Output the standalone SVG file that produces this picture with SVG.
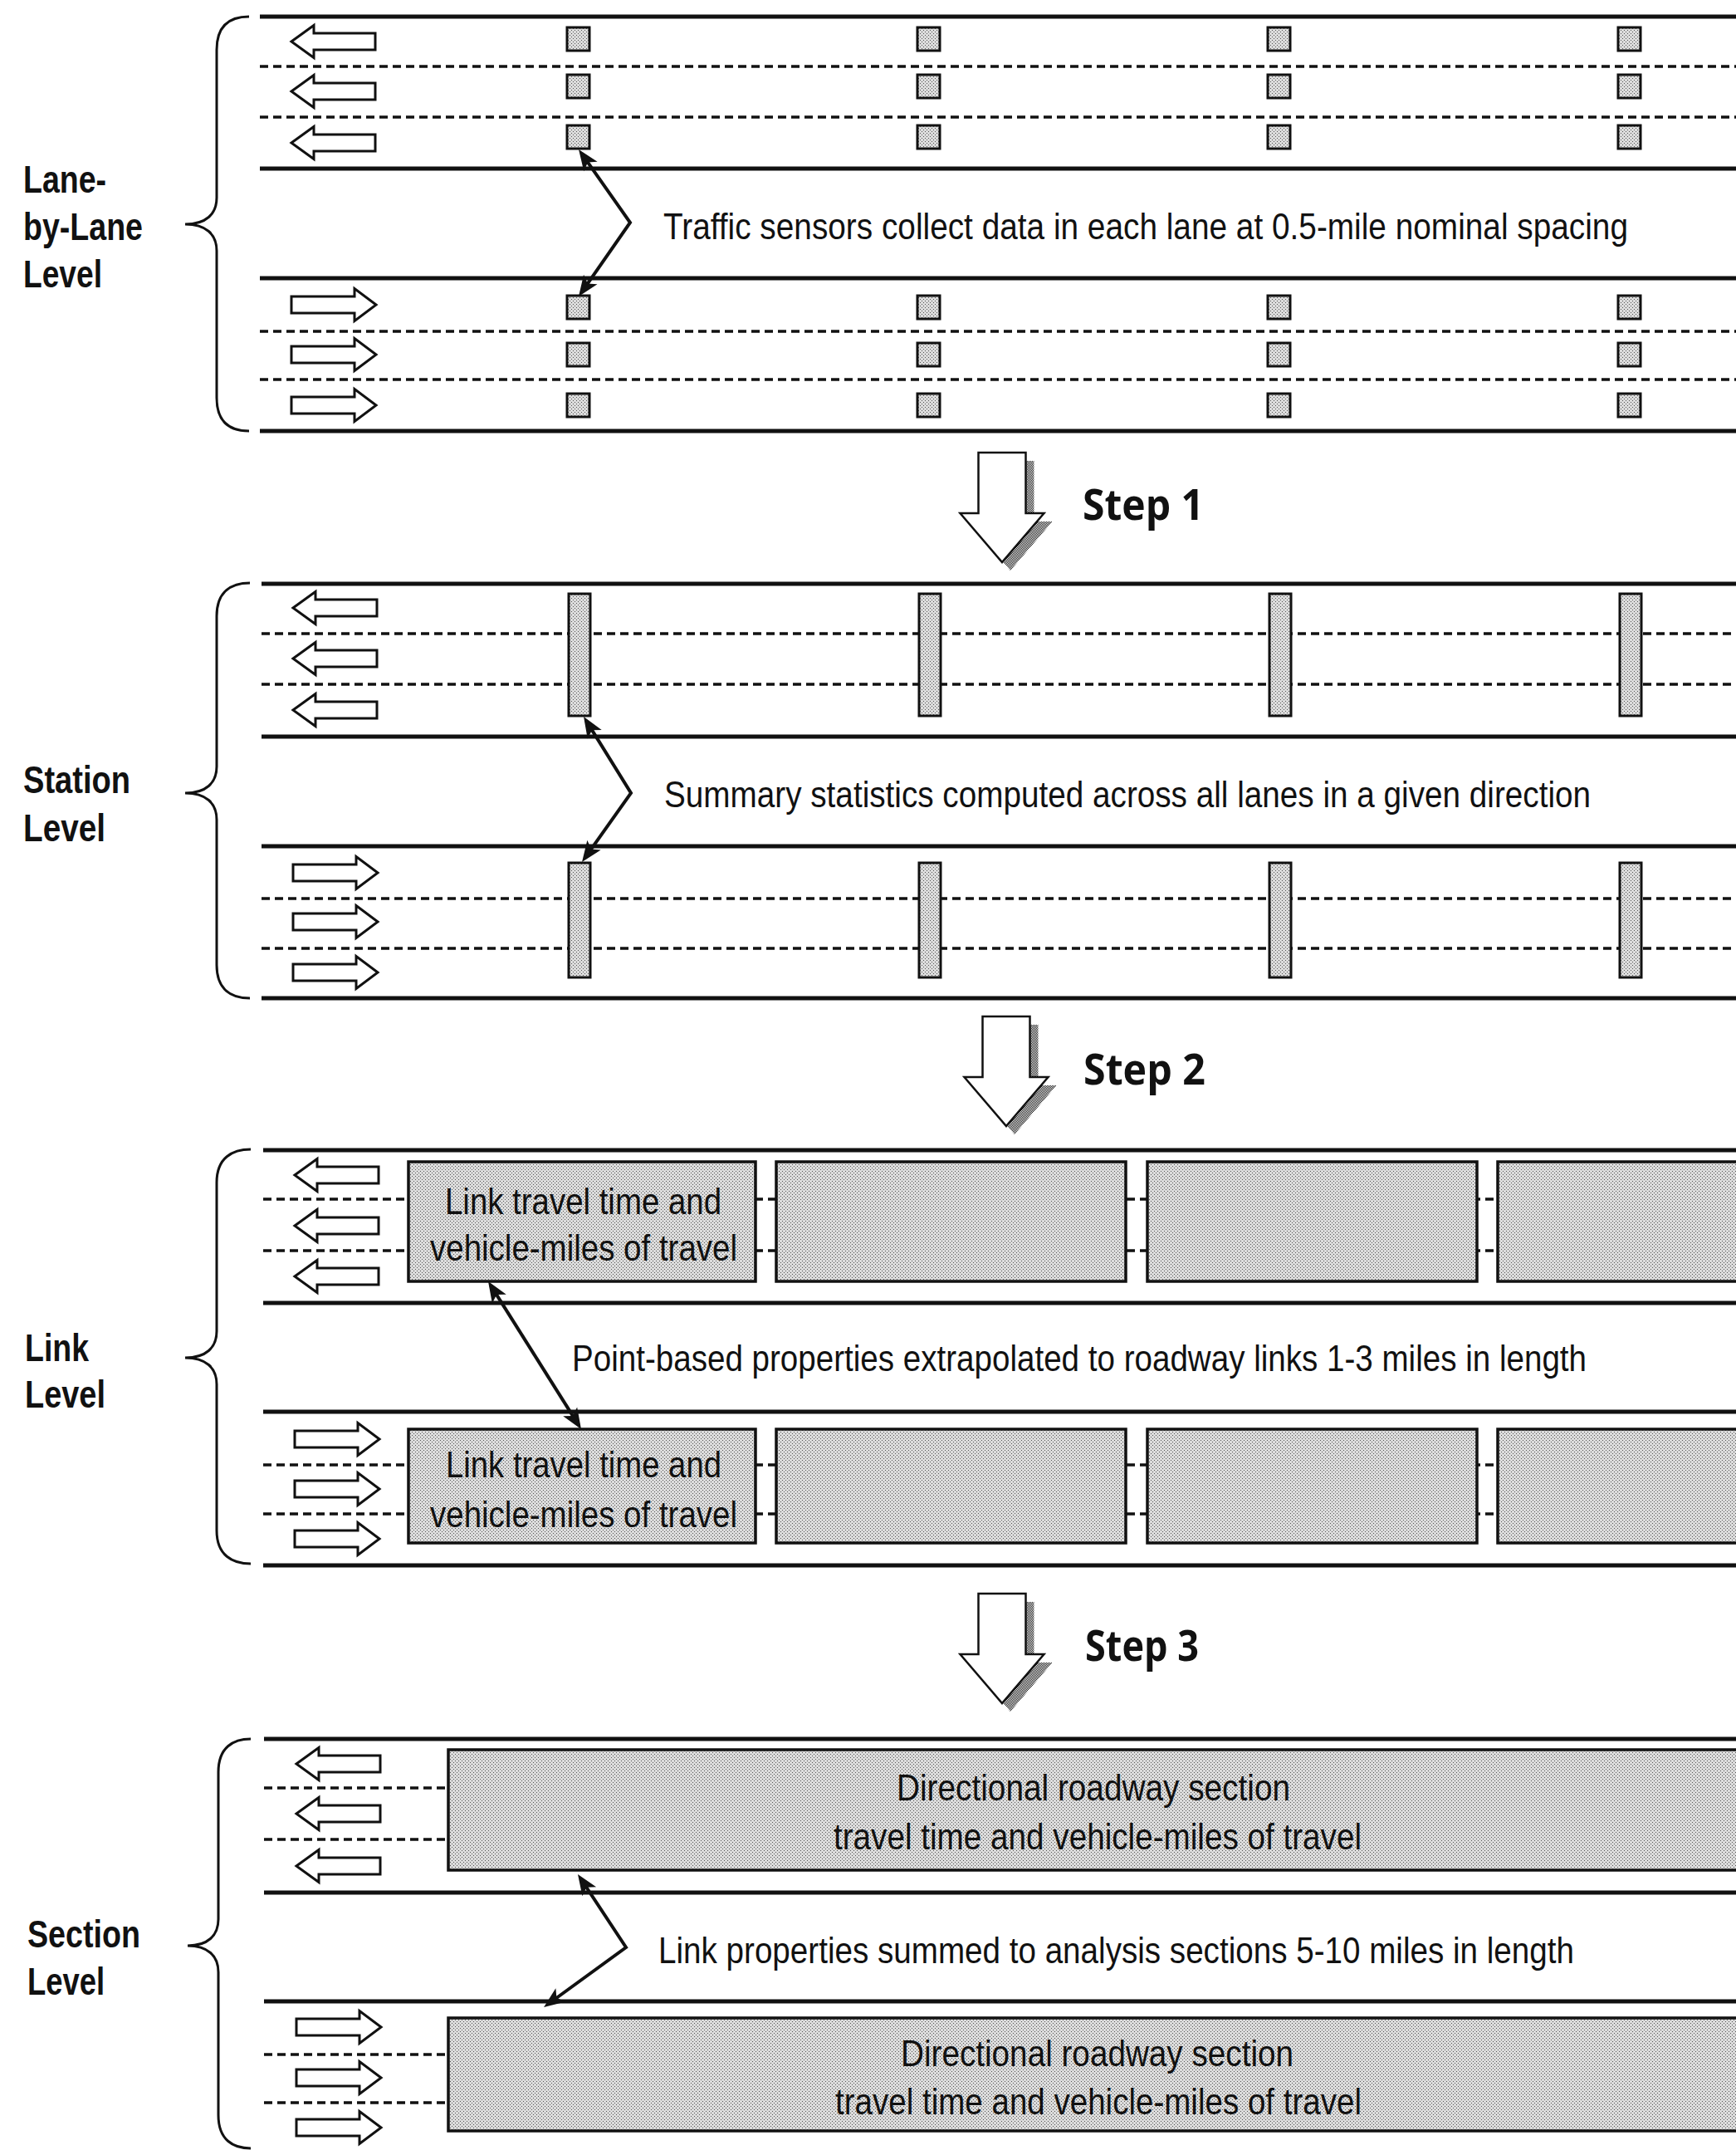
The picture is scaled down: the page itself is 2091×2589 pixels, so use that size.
<svg xmlns="http://www.w3.org/2000/svg" width="2091" height="2589" viewBox="0 0 2091 2589">
<defs>
<style>
.solid{stroke:#111;stroke-width:5;fill:none}
.dash{stroke:#111;stroke-width:3.5;stroke-dasharray:10 6;fill:none}
.lane{fill:#fff;stroke:#111;stroke-width:3}
.stip{fill:url(#stip);stroke:#111;stroke-width:3}
.box{fill:url(#stip);stroke:#111;stroke-width:3.5}
.brace{fill:none;stroke:#111;stroke-width:3}
.lbl{font-family:"Liberation Sans Narrow","Liberation Sans",Arial,sans-serif;font-weight:bold;font-size:46px;fill:#111}
.body{font-family:"Liberation Sans Narrow","Liberation Sans",Arial,sans-serif;font-size:45px;fill:#111}
.step{font-family:"Open Sans","Liberation Sans",sans-serif;font-weight:bold;font-size:52px;fill:#111}
.conn{fill:none;stroke:#111;stroke-width:4;marker-start:url(#ah);marker-end:url(#ah)}
.blk{fill:#fff;stroke:#111;stroke-width:2.5}
.shd{fill:url(#shade);stroke:none}
</style>
<pattern id="stip" width="4" height="4" patternUnits="userSpaceOnUse">
<rect width="4" height="4" fill="#dcdcdc"/>
<rect width="1" height="1" fill="#555"/>
<rect x="2" y="2" width="1" height="1" fill="#555"/>
</pattern>
<pattern id="shade" width="2" height="2" patternUnits="userSpaceOnUse">
<rect width="2" height="2" fill="#fff"/>
<rect width="1" height="1" fill="#111"/>
<rect x="1" y="1" width="1" height="1" fill="#111"/>
</pattern>
<marker id="ah" viewBox="-30 -12 32 24" markerWidth="32" markerHeight="24" refX="-6" refY="0" orient="auto-start-reverse" markerUnits="userSpaceOnUse">
<path d="M0,0 L-25,-10 L-19,0 L-25,10 Z" fill="#111"/>
</marker>
<path id="la" d="M0,0 L27,-19.5 L27,-10 L101,-10 L101,10 L27,10 L27,19.5 Z"/>
<path id="ra" d="M102,0 L76,-19.5 L76,-10 L0,-10 L0,10 L76,10 L76,19.5 Z"/>
<path id="blockArrow" d="M-28.5,0 H28.5 V73 H50.5 L0,132 L-50.5,73 H-28.5 Z"/>
</defs>
<rect width="2091" height="2589" fill="#fff"/>

<!-- Level 1: Lane-by-Lane -->
<g id="level-lane">
<g id="level-lane-road">
<line class="solid" x1="313" y1="20" x2="2091" y2="20"/>
<line class="dash" x1="313" y1="80" x2="2091" y2="80"/>
<line class="dash" x1="313" y1="141" x2="2091" y2="141"/>
<line class="solid" x1="313" y1="203" x2="2091" y2="203"/>
<line class="solid" x1="313" y1="335" x2="2091" y2="335"/>
<line class="dash" x1="313" y1="399" x2="2091" y2="399"/>
<line class="dash" x1="313" y1="457" x2="2091" y2="457"/>
<line class="solid" x1="313" y1="519" x2="2091" y2="519"/>
</g>
<g id="level-lane-arrows">
<use href="#la" class="lane" x="351" y="50"/>
<use href="#la" class="lane" x="351" y="110"/>
<use href="#la" class="lane" x="351" y="172"/>
<use href="#ra" class="lane" x="351" y="367"/>
<use href="#ra" class="lane" x="351" y="427"/>
<use href="#ra" class="lane" x="351" y="488"/>
</g>
<g id="sensors">
<rect class="stip" x="683" y="33" width="27" height="28"/>
<rect class="stip" x="683" y="90" width="27" height="28"/>
<rect class="stip" x="683" y="151" width="27" height="28"/>
<rect class="stip" x="683" y="356" width="27" height="28"/>
<rect class="stip" x="683" y="413" width="27" height="28"/>
<rect class="stip" x="683" y="474" width="27" height="28"/>
<rect class="stip" x="1105" y="33" width="27" height="28"/>
<rect class="stip" x="1105" y="90" width="27" height="28"/>
<rect class="stip" x="1105" y="151" width="27" height="28"/>
<rect class="stip" x="1105" y="356" width="27" height="28"/>
<rect class="stip" x="1105" y="413" width="27" height="28"/>
<rect class="stip" x="1105" y="474" width="27" height="28"/>
<rect class="stip" x="1527" y="33" width="27" height="28"/>
<rect class="stip" x="1527" y="90" width="27" height="28"/>
<rect class="stip" x="1527" y="151" width="27" height="28"/>
<rect class="stip" x="1527" y="356" width="27" height="28"/>
<rect class="stip" x="1527" y="413" width="27" height="28"/>
<rect class="stip" x="1527" y="474" width="27" height="28"/>
<rect class="stip" x="1949" y="33" width="27" height="28"/>
<rect class="stip" x="1949" y="90" width="27" height="28"/>
<rect class="stip" x="1949" y="151" width="27" height="28"/>
<rect class="stip" x="1949" y="356" width="27" height="28"/>
<rect class="stip" x="1949" y="413" width="27" height="28"/>
<rect class="stip" x="1949" y="474" width="27" height="28"/>
</g>
<g id="label-lane">
<path class="brace" d="M300,20 C278,20 261,30 261,60 L261,238 C261,258 248,270 223,270 C248,270 261,282 261,302 L261,479 C261,509 278,519 300,519"/>
<text class="lbl" x="28" y="232" textLength="100" lengthAdjust="spacingAndGlyphs">Lane-</text>
<text class="lbl" x="28" y="289" textLength="144" lengthAdjust="spacingAndGlyphs">by-Lane</text>
<text class="lbl" x="28" y="346" textLength="95" lengthAdjust="spacingAndGlyphs">Level</text>
</g>
<text class="body" transform="translate(799,288) scale(0.78,1)" x="0" y="0" textLength="1489.7" lengthAdjust="spacingAndGlyphs">Traffic sensors collect data in each lane at 0.5-mile nominal spacing</text>
</g>

<!-- Step 1 -->
<g id="step1">
<use href="#blockArrow" class="shd" x="1217" y="555"/>
<use href="#blockArrow" class="blk" x="1207" y="545"/>
<text class="step" x="1304" y="626" textLength="146" lengthAdjust="spacingAndGlyphs">Step 1</text>
</g>

<!-- Level 2: Station -->
<g id="level-station">
<g id="level-station-road">
<line class="solid" x1="315" y1="703" x2="2091" y2="703"/>
<line class="dash" x1="315" y1="763" x2="2091" y2="763"/>
<line class="dash" x1="315" y1="824" x2="2091" y2="824"/>
<line class="solid" x1="315" y1="887" x2="2091" y2="887"/>
<line class="solid" x1="315" y1="1019" x2="2091" y2="1019"/>
<line class="dash" x1="315" y1="1082" x2="2091" y2="1082"/>
<line class="dash" x1="315" y1="1142" x2="2091" y2="1142"/>
<line class="solid" x1="315" y1="1202" x2="2091" y2="1202"/>
</g>
<g id="level-station-arrows">
<use href="#la" class="lane" x="353" y="732"/>
<use href="#la" class="lane" x="353" y="793"/>
<use href="#la" class="lane" x="353" y="855"/>
<use href="#ra" class="lane" x="353" y="1051"/>
<use href="#ra" class="lane" x="353" y="1110"/>
<use href="#ra" class="lane" x="353" y="1171"/>
</g>
<g id="stations">
<rect class="stip" x="685" y="715" width="26" height="147"/>
<rect class="stip" x="1107" y="715" width="26" height="147"/>
<rect class="stip" x="1529" y="715" width="26" height="147"/>
<rect class="stip" x="1951" y="715" width="26" height="147"/>
<rect class="stip" x="685" y="1039" width="26" height="138"/>
<rect class="stip" x="1107" y="1039" width="26" height="138"/>
<rect class="stip" x="1529" y="1039" width="26" height="138"/>
<rect class="stip" x="1951" y="1039" width="26" height="138"/>
</g>
<g id="label-station">
<path class="brace" d="M301,702 C279,702 261,712 261,742 L261,923 C261,943 248,955 223,955 C248,955 261,967 261,987 L261,1162 C261,1192 279,1202 301,1202"/>
<text class="lbl" x="28" y="955" textLength="129" lengthAdjust="spacingAndGlyphs">Station</text>
<text class="lbl" x="28" y="1013" textLength="99" lengthAdjust="spacingAndGlyphs">Level</text>
</g>
<text class="body" transform="translate(800,972) scale(0.78,1)" x="0" y="0" textLength="1430.8" lengthAdjust="spacingAndGlyphs">Summary statistics computed across all lanes in a given direction</text>
</g>

<!-- Step 2 -->
<g id="step2">
<use href="#blockArrow" class="shd" x="1222" y="1234"/>
<use href="#blockArrow" class="blk" x="1212" y="1224"/>
<text class="step" x="1305" y="1306" textLength="147" lengthAdjust="spacingAndGlyphs">Step 2</text>
</g>

<!-- Level 3: Link -->
<g id="level-link">
<g id="level-link-road">
<line class="solid" x1="317" y1="1385" x2="2091" y2="1385"/>
<line class="dash" x1="317" y1="1444" x2="2091" y2="1444"/>
<line class="dash" x1="317" y1="1506" x2="2091" y2="1506"/>
<line class="solid" x1="317" y1="1569" x2="2091" y2="1569"/>
<line class="solid" x1="317" y1="1700" x2="2091" y2="1700"/>
<line class="dash" x1="317" y1="1764" x2="2091" y2="1764"/>
<line class="dash" x1="317" y1="1823" x2="2091" y2="1823"/>
<line class="solid" x1="317" y1="1885" x2="2091" y2="1885"/>
</g>
<g id="level-link-arrows">
<use href="#la" class="lane" x="355" y="1415"/>
<use href="#la" class="lane" x="355" y="1476"/>
<use href="#la" class="lane" x="355" y="1537"/>
<use href="#ra" class="lane" x="355" y="1733"/>
<use href="#ra" class="lane" x="355" y="1793"/>
<use href="#ra" class="lane" x="355" y="1853"/>
</g>
<g id="links">
<rect class="box" x="492" y="1399" width="418" height="144"/>
<rect class="box" x="935" y="1399" width="421" height="144"/>
<rect class="box" x="1382" y="1399" width="397" height="144"/>
<rect class="box" x="1804" y="1399" width="300" height="144"/>
<rect class="box" x="492" y="1721" width="418" height="137"/>
<rect class="box" x="935" y="1721" width="421" height="137"/>
<rect class="box" x="1382" y="1721" width="397" height="137"/>
<rect class="box" x="1804" y="1721" width="300" height="137"/>
<text class="body" x="536" y="1462" textLength="333" lengthAdjust="spacingAndGlyphs">Link travel time and</text>
<text class="body" x="518" y="1518" textLength="370" lengthAdjust="spacingAndGlyphs">vehicle-miles of travel</text>
<text class="body" x="537" y="1779" textLength="332" lengthAdjust="spacingAndGlyphs">Link travel time and</text>
<text class="body" x="518" y="1839" textLength="370" lengthAdjust="spacingAndGlyphs">vehicle-miles of travel</text>
</g>
<g id="label-link">
<path class="brace" d="M302,1384 C280,1384 261,1394 261,1424 L261,1603 C261,1623 248,1635 223,1635 C248,1635 261,1647 261,1667 L261,1843 C261,1873 280,1883 302,1883"/>
<text class="lbl" x="30" y="1639" textLength="77" lengthAdjust="spacingAndGlyphs">Link</text>
<text class="lbl" x="30" y="1695" textLength="97" lengthAdjust="spacingAndGlyphs">Level</text>
</g>
<text class="body" transform="translate(689,1651) scale(0.78,1)" x="0" y="0" textLength="1566.7" lengthAdjust="spacingAndGlyphs">Point-based properties extrapolated to roadway links 1-3 miles in length</text>
</g>

<!-- Step 3 -->
<g id="step3">
<use href="#blockArrow" class="shd" x="1217" y="1929"/>
<use href="#blockArrow" class="blk" x="1207" y="1919"/>
<text class="step" x="1307" y="2000" textLength="137" lengthAdjust="spacingAndGlyphs">Step 3</text>
</g>

<!-- Level 4: Section -->
<g id="level-section">
<g id="level-section-road">
<line class="solid" x1="318" y1="2094" x2="2091" y2="2094"/>
<line class="dash" x1="318" y1="2153" x2="545" y2="2153"/>
<line class="dash" x1="318" y1="2215" x2="545" y2="2215"/>
<line class="solid" x1="318" y1="2279" x2="2091" y2="2279"/>
<line class="solid" x1="318" y1="2410" x2="2091" y2="2410"/>
<line class="dash" x1="318" y1="2474" x2="545" y2="2474"/>
<line class="dash" x1="318" y1="2532" x2="545" y2="2532"/>
</g>
<g id="level-section-arrows">
<use href="#la" class="lane" x="357" y="2124"/>
<use href="#la" class="lane" x="357" y="2184"/>
<use href="#la" class="lane" x="357" y="2247"/>
<use href="#ra" class="lane" x="357" y="2441"/>
<use href="#ra" class="lane" x="357" y="2502"/>
<use href="#ra" class="lane" x="357" y="2562"/>
</g>
<g id="sections">
<rect class="box" x="540" y="2107" width="1560" height="145"/>
<rect class="box" x="540" y="2430" width="1560" height="136"/>
<text class="body" x="1080" y="2168" textLength="474" lengthAdjust="spacingAndGlyphs">Directional roadway section</text>
<text class="body" x="1004" y="2227" textLength="636" lengthAdjust="spacingAndGlyphs">travel time and vehicle-miles of travel</text>
<text class="body" x="1085" y="2488" textLength="473" lengthAdjust="spacingAndGlyphs">Directional roadway section</text>
<text class="body" x="1006" y="2546" textLength="634" lengthAdjust="spacingAndGlyphs">travel time and vehicle-miles of travel</text>
</g>
<g id="label-section">
<path class="brace" d="M302,2094 C281,2094 263,2104 263,2134 L263,2311 C263,2331 250,2343 226,2343 C250,2343 263,2355 263,2375 L263,2547 C263,2577 281,2587 302,2587"/>
<text class="lbl" x="33" y="2345" textLength="136" lengthAdjust="spacingAndGlyphs">Section</text>
<text class="lbl" x="33" y="2402" textLength="93" lengthAdjust="spacingAndGlyphs">Level</text>
</g>
<text class="body" transform="translate(793,2364) scale(0.78,1)" x="0" y="0" textLength="1414.1" lengthAdjust="spacingAndGlyphs">Link properties summed to analysis sections 5-10 miles in length</text>
</g>

<!-- Connectors -->
<g id="connectors">
<path class="conn" d="M700.5,184.9 L759,268 L700.4,352.1"/>
<path class="conn" d="M706.2,868.1 L760,955 L704.5,1033.1"/>
<path class="conn" d="M591.2,1548.1 L696.8,1715.9"/>
<path class="conn" d="M699.3,2262 L754,2345 L659.9,2413.5"/>
</g>
</svg>
